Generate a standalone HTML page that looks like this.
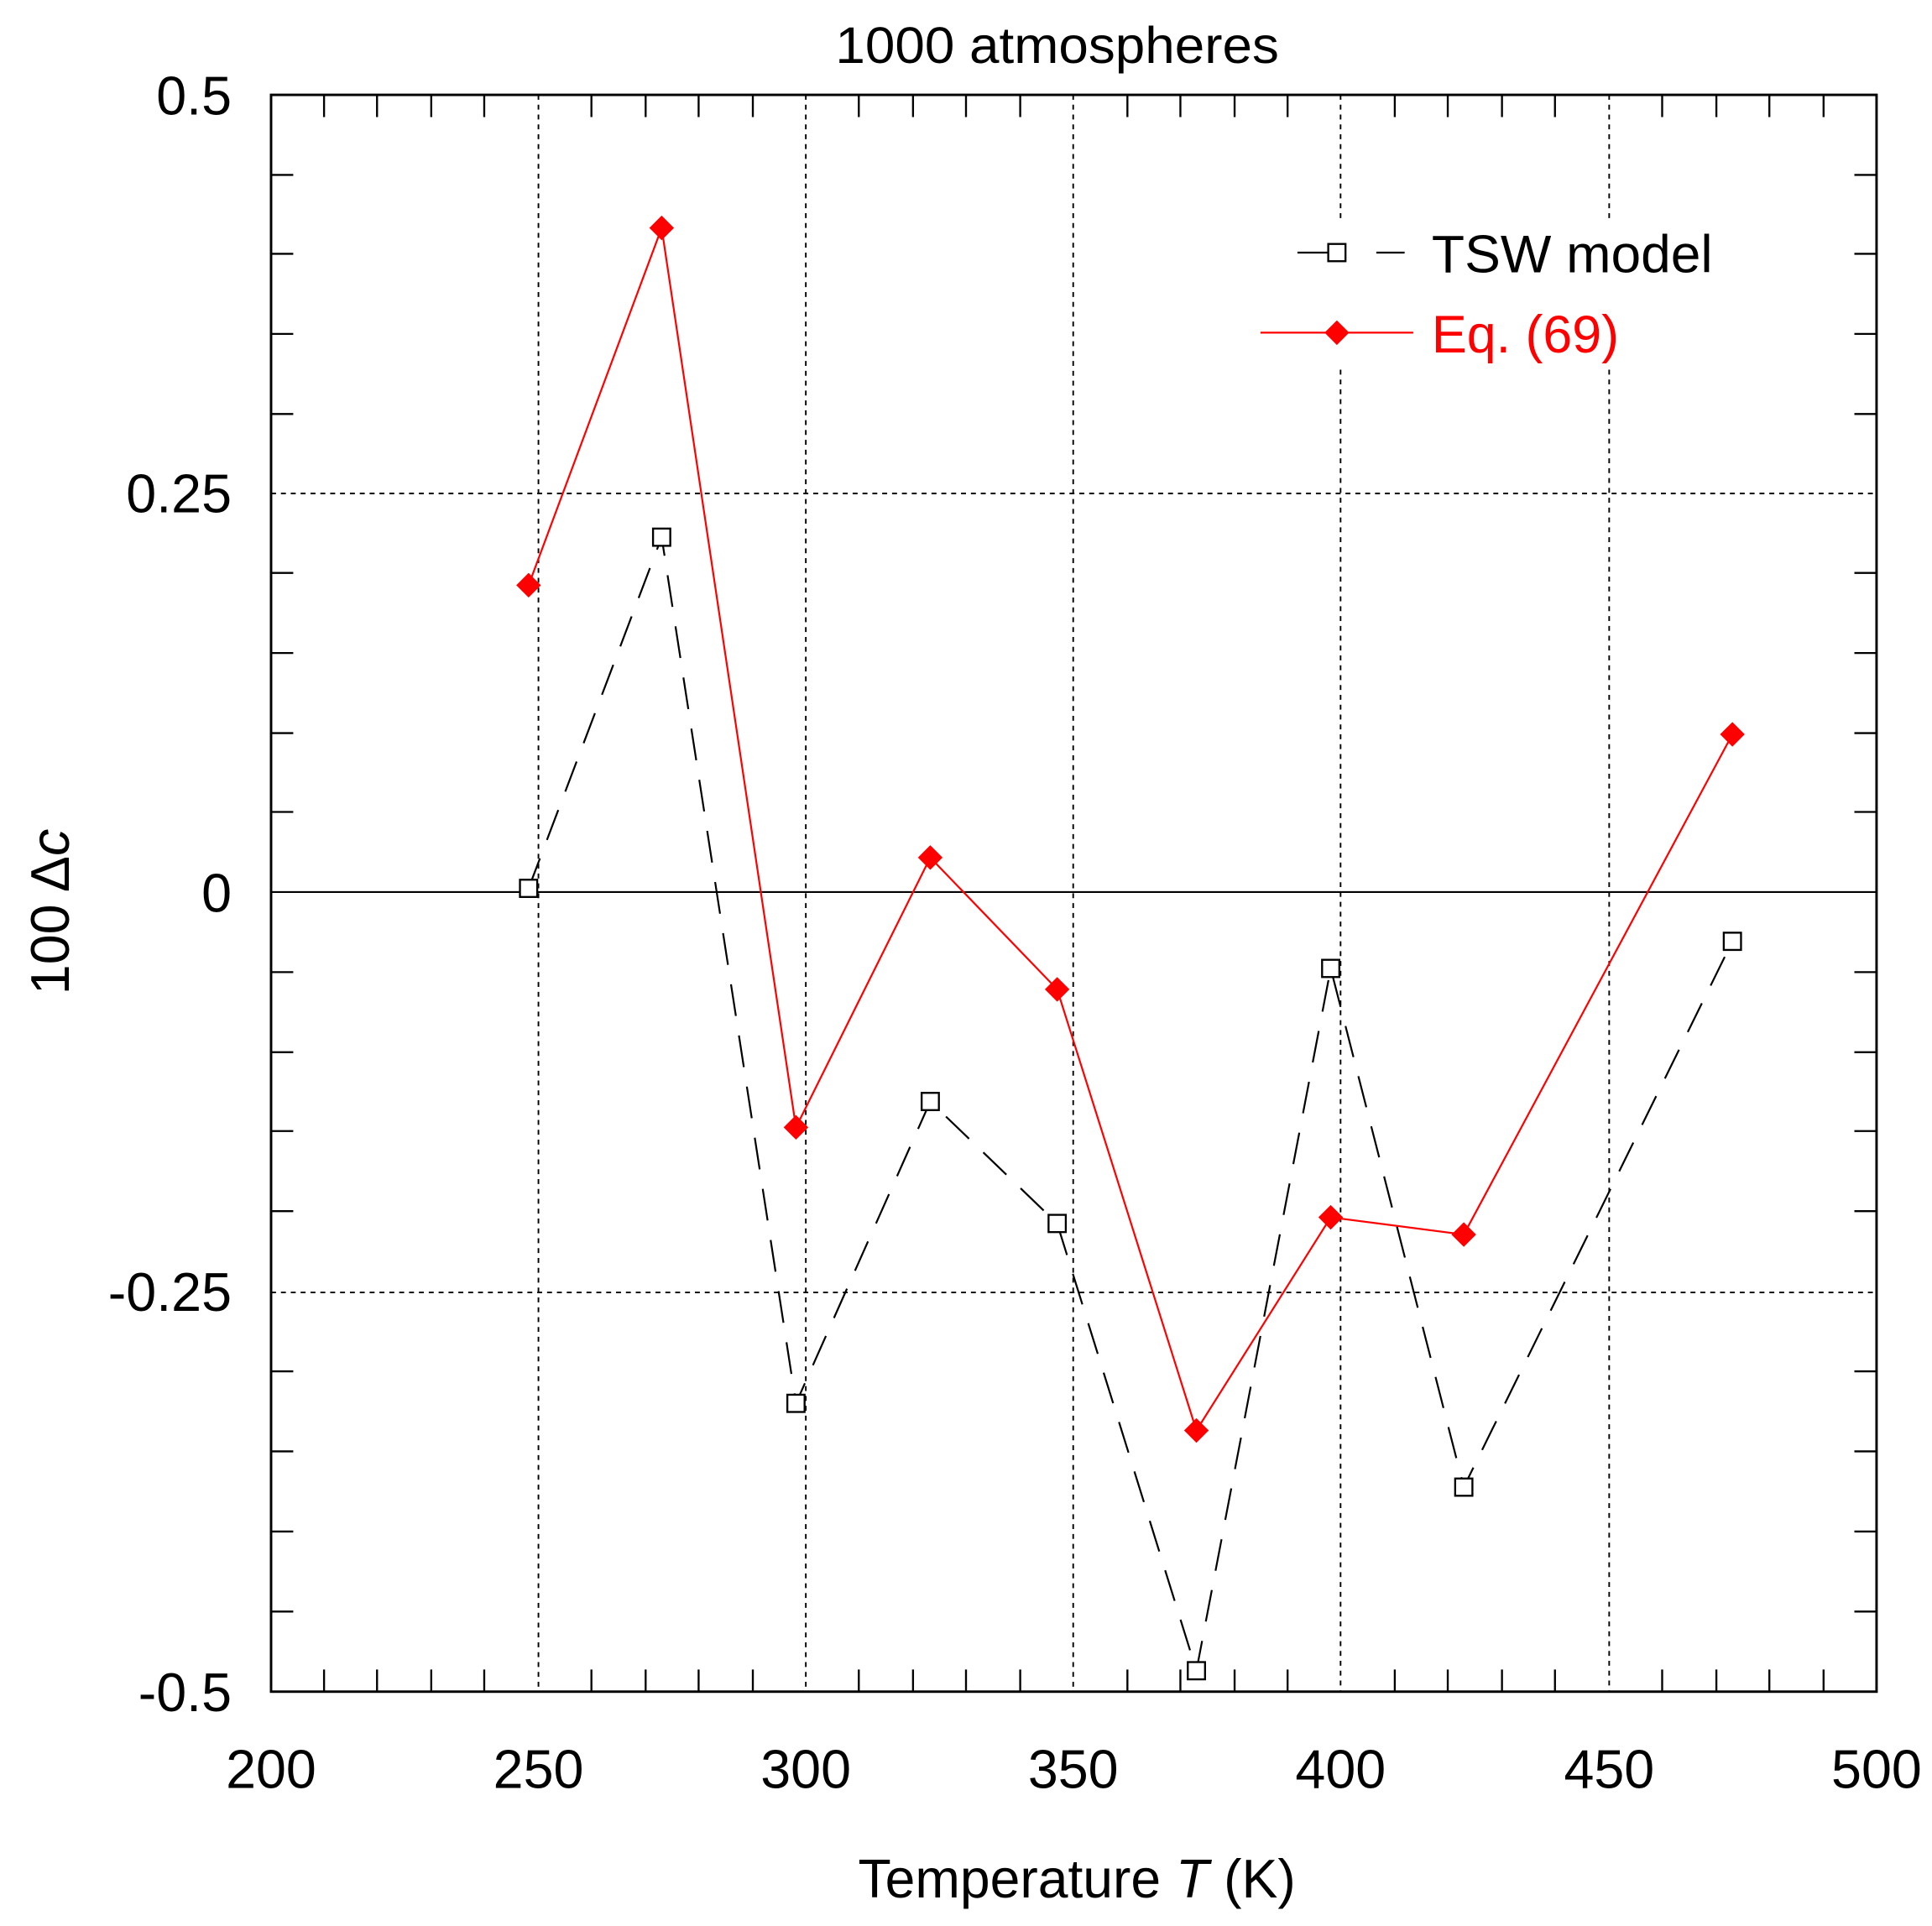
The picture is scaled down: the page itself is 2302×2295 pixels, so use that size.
<!DOCTYPE html>
<html><head><meta charset="utf-8"><style>html,body{margin:0;padding:0;background:#fff}svg{display:block}</style></head>
<body>
<svg width="2302" height="2295" viewBox="0 0 1568 1563.2" preserveAspectRatio="none" xmlns="http://www.w3.org/2000/svg" font-family="Liberation Sans, sans-serif">
<rect x="0" y="0" width="1568" height="1564" fill="#fff"/>
<g stroke="#000" stroke-width="1.3" stroke-dasharray="4,4" fill="none">
<line x1="437" y1="77" x2="437" y2="1373"/>
<line x1="654" y1="77" x2="654" y2="1373"/>
<line x1="871" y1="77" x2="871" y2="1373"/>
<line x1="1088" y1="77" x2="1088" y2="180"/>
<line x1="1088" y1="300" x2="1088" y2="1373"/>
<line x1="1306" y1="77" x2="1306" y2="180"/>
<line x1="1306" y1="300" x2="1306" y2="1373"/>
<line x1="220" y1="400.5" x2="1523" y2="400.5"/>
<line x1="220" y1="1049" x2="1523" y2="1049"/>
</g>
<line x1="220" y1="724" x2="1523" y2="724" stroke="#000" stroke-width="1.4"/>
<g stroke="#000" stroke-width="1.6">
<path d="M263,77v18M306,77v18M350,77v18M393,77v18M480,77v18M524,77v18M567,77v18M611,77v18M697,77v18M741,77v18M784,77v18M828,77v18M915,77v18M958,77v18M1002,77v18M1045,77v18M1132,77v18M1175,77v18M1219,77v18M1262,77v18M1349,77v18M1393,77v18M1436,77v18M1480,77v18"/>
<path d="M263,1373v-18M306,1373v-18M350,1373v-18M393,1373v-18M480,1373v-18M524,1373v-18M567,1373v-18M611,1373v-18M697,1373v-18M741,1373v-18M784,1373v-18M828,1373v-18M915,1373v-18M958,1373v-18M1002,1373v-18M1045,1373v-18M1132,1373v-18M1175,1373v-18M1219,1373v-18M1262,1373v-18M1349,1373v-18M1393,1373v-18M1436,1373v-18M1480,1373v-18"/>
<path d="M220,142h18M220,206h18M220,271h18M220,336h18M220,465h18M220,530h18M220,595h18M220,659h18M220,789h18M220,854h18M220,918h18M220,983h18M220,1113h18M220,1178h18M220,1243h18M220,1308h18"/>
<path d="M1523,142h-18M1523,206h-18M1523,271h-18M1523,336h-18M1523,465h-18M1523,530h-18M1523,595h-18M1523,659h-18M1523,789h-18M1523,854h-18M1523,918h-18M1523,983h-18M1523,1113h-18M1523,1178h-18M1523,1243h-18M1523,1308h-18"/>
</g>
<rect x="220" y="77" width="1303" height="1296" fill="none" stroke="#000" stroke-width="2"/>
<polyline points="429,721 537,436 646,1139 755,894 858,993 971,1356 1080,786 1188,1207 1406,764" fill="none" stroke="#000" stroke-width="1.5" stroke-dasharray="26,16"/>
<g fill="#fff" stroke="#000" stroke-width="1.6">
<rect x="422" y="714" width="14" height="14"/><rect x="530" y="429" width="14" height="14"/><rect x="639" y="1132" width="14" height="14"/><rect x="748" y="887" width="14" height="14"/><rect x="851" y="986" width="14" height="14"/><rect x="964" y="1349" width="14" height="14"/><rect x="1073" y="779" width="14" height="14"/><rect x="1181" y="1200" width="14" height="14"/><rect x="1399" y="757" width="14" height="14"/>
</g>
<polyline points="429,475 537,185 646,915 755,696 858,803 971,1161 1080,988 1188,1002 1406,596" fill="none" stroke="#f00" stroke-width="1.5"/>
<g fill="#f00">
<path d="M429,465l10,10l-10,10l-10,-10z"/><path d="M537,175l10,10l-10,10l-10,-10z"/><path d="M646,905l10,10l-10,10l-10,-10z"/><path d="M755,686l10,10l-10,10l-10,-10z"/><path d="M858,793l10,10l-10,10l-10,-10z"/><path d="M971,1151l10,10l-10,10l-10,-10z"/><path d="M1080,978l10,10l-10,10l-10,-10z"/><path d="M1188,992l10,10l-10,10l-10,-10z"/><path d="M1406,586l10,10l-10,10l-10,-10z"/>
</g>
<line x1="1053" y1="205" x2="1078" y2="205" stroke="#000" stroke-width="1.5"/>
<line x1="1117" y1="205" x2="1140" y2="205" stroke="#000" stroke-width="1.5"/>
<rect x="1078" y="198" width="14" height="14" fill="#fff" stroke="#000" stroke-width="1.6"/>
<text x="1162" y="221" font-size="43" textLength="228" lengthAdjust="spacingAndGlyphs">TSW model</text>
<line x1="1023" y1="270" x2="1147" y2="270" stroke="#f00" stroke-width="1.5"/>
<path d="M1085,260l10,10l-10,10l-10,-10z" fill="#f00"/>
<text x="1162" y="286" font-size="43" fill="#f00" textLength="152" lengthAdjust="spacingAndGlyphs">Eq. (69)</text>
<text x="858" y="51" font-size="42" text-anchor="middle" textLength="360" lengthAdjust="spacingAndGlyphs">1000 atmospheres</text>
<g font-size="44" text-anchor="end">
<text x="188" y="93">0.5</text>
<text x="188" y="416">0.25</text>
<text x="188" y="740">0</text>
<text x="188" y="1064">-0.25</text>
<text x="188" y="1389">-0.5</text>
</g>
<g font-size="44" text-anchor="middle">
<text x="220" y="1451">200</text><text x="437" y="1451">250</text><text x="654" y="1451">300</text><text x="871" y="1451">350</text><text x="1088" y="1451">400</text><text x="1306" y="1451">450</text><text x="1523" y="1451">500</text>
</g>
<text x="874" y="1540" font-size="44" text-anchor="middle" textLength="355" lengthAdjust="spacingAndGlyphs">Temperature <tspan font-style="italic">T</tspan> (K)</text>
<text transform="translate(56,740) rotate(-90)" font-size="44" text-anchor="middle">100 Δ<tspan font-style="italic">c</tspan></text>
</svg>
</body></html>
